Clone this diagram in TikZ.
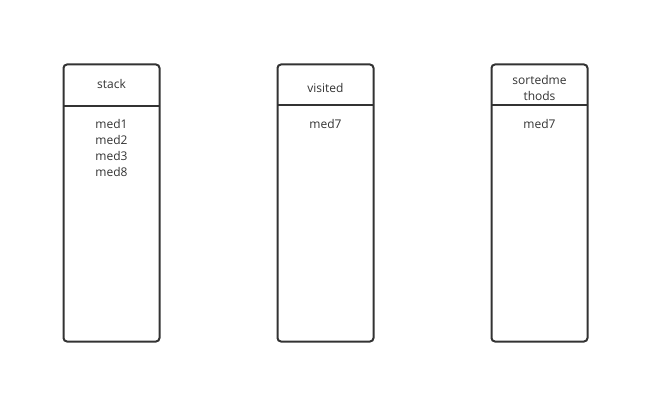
\documentclass[tikz,border=0pt]{standalone}
\usepackage{fontspec}
\setmainfont{Open Sans}
\definecolor{ink}{HTML}{333333}
\begin{document}
\begin{tikzpicture}[x=1pt,y=-1pt,
  boxstyle/.style={draw=ink,line width=2pt,rounded corners=3.5pt,minimum width=96pt,minimum height=277pt,inner sep=0pt},
  divider/.style={draw=ink,line width=2pt},
  txt/.style={font=\fontsize{12}{16}\selectfont,text=ink,inner sep=0pt,align=center}]
\useasboundingbox (0,0) rectangle (649,404);
% boxes
\node[boxstyle] (b1) at (111.5,203) {};
\node[boxstyle] (b2) at (325.5,203) {};
\node[boxstyle] (b3) at (539.5,203) {};
% dividers
\coordinate (d1l) at (64,106.5); \coordinate (d1r) at (159,106.5);
\coordinate (d2l) at (278,105.5); \coordinate (d2r) at (373,105.5);
\coordinate (d3l) at (492,105.5); \coordinate (d3r) at (587,105.5);
\draw[divider] (d1l) -- (d1r);
\draw[divider] (d2l) -- (d2r);
\draw[divider] (d3l) -- (d3r);
% headers
\node[txt] (h1) at (111.5,84) {stack};
\node[txt] (h2) at (325.5,88) {visited};
\node[txt] (h3) at (539.5,88) {sortedme\\thods};
% contents
\node[txt,anchor=north] (c1) at (111.5,119.5) {med1\\med2\\med3\\med8};
\node[txt,anchor=north] (c2) at (325.5,119.5) {med7};
\node[txt,anchor=north] (c3) at (539.5,119.5) {med7};
\end{tikzpicture}
\end{document}
